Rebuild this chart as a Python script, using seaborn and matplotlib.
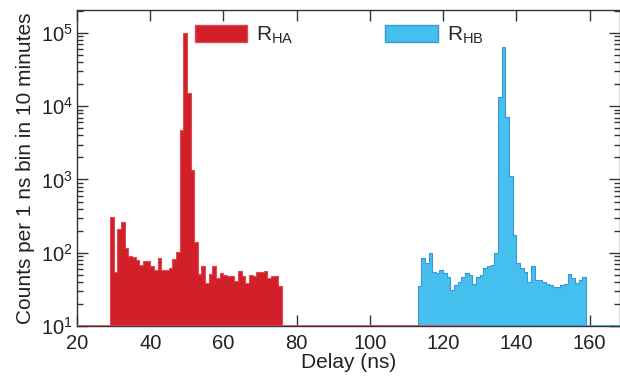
import numpy as np
import pandas as pd
import matplotlib
matplotlib.use("Agg")
import matplotlib.pyplot as plt
from matplotlib.patches import Patch
from matplotlib.ticker import NullLocator, LogLocator
import seaborn as sns

sns.set_style("ticks")
plt.rcParams["font.family"] = ["Liberation Sans", "DejaVu Sans"]
plt.rcParams["mathtext.default"] = "regular"

# ---- data (counts per 1 ns bin) ----
ha_first_bin = 29   # left edge (ns) of first R_HA bin
counts_ha = [310, 55, 210, 260, 117, 90, 88, 79, 68, 76, 76, 65, 58, 84, 58, 58,
             61, 81, 101, 4700, 100000, 15000, 1330, 141, 52, 66, 39, 52, 66, 45,
             53, 50, 48, 48, 41, 56, 48, 39, 49, 48, 55, 55, 56, 45, 48, 48, 35]
hb_first_bin = 113  # left edge (ns) of first R_HB bin
counts_hb = [35, 84, 73, 100, 55, 53, 59, 53, 47, 31, 36, 40, 47, 53, 50, 38,
             47, 50, 61, 66, 68, 100, 13500, 65000, 7100, 1100, 174, 73, 61, 55,
             40, 65, 42, 42, 40, 38, 36, 34, 34, 36, 38, 51, 45, 39, 42, 46]
labels = ["R$_{HA}$", "R$_{HB}$"]
ha_range = (20, 130)
hb_range = (100, 170)

delay_ha = np.arange(ha_first_bin, ha_first_bin + len(counts_ha)) + 0.5
delay_hb = np.arange(hb_first_bin, hb_first_bin + len(counts_hb)) + 0.5
df_ha = pd.DataFrame({"delay": delay_ha, "counts": counts_ha})
df_hb = pd.DataFrame({"delay": delay_hb, "counts": counts_hb})

red, red_edge = "#D2202A", "#DC4A52"
blue, blue_edge = "#45C0EE", "#3A98D8"

fig = plt.figure(figsize=(6.2, 3.76), dpi=100)
ax = fig.add_axes([77 / 620, 50 / 376, 543 / 620, 316 / 376])

sns.histplot(data=df_hb, x="delay", weights="counts", binwidth=1, binrange=hb_range,
             element="step", fill=True, color=blue, alpha=1, edgecolor=blue_edge,
             linewidth=0.8, ax=ax)
sns.histplot(data=df_ha, x="delay", weights="counts", binwidth=1, binrange=ha_range,
             element="step", fill=True, color=red, alpha=1, edgecolor=red_edge,
             linewidth=0.8, ax=ax)

ax.set_yscale("log")
ax.set_ylim(10, 2.06e5)
ax.set_xlim(20, 168.3)
# zero-count baseline of each histogram
ax.hlines(10, *hb_range, color=blue_edge, lw=1.2, zorder=3, clip_on=True)
ax.hlines(10, *ha_range, color=red_edge, lw=1.2, zorder=3, clip_on=True)

ax.set_xticks([20, 40, 60, 80, 100, 120, 140, 160])
ax.xaxis.set_minor_locator(NullLocator())
ax.yaxis.set_major_locator(LogLocator(base=10, numticks=10))
ax.yaxis.set_minor_locator(LogLocator(base=10, subs=np.arange(2, 10), numticks=10))

ax.tick_params(which="both", direction="in", top=True, right=True, colors="#333333",
               labelcolor="#222222", labelsize=14.5, width=1)
ax.tick_params(which="major", length=8, pad=3)
ax.tick_params(which="minor", length=4)
ax.tick_params(axis="x", which="major", pad=5.5)
for s in ax.spines.values():
    s.set_color("#333333")
    s.set_linewidth(1)

ax.set_xlabel("Delay (ns)", fontsize=15, labelpad=0, color="#222222")
ax.set_ylabel("Counts per 1 ns bin in 10 minutes", fontsize=15, labelpad=4, color="#222222")

handles = [Patch(facecolor=red, edgecolor=red_edge), Patch(facecolor=blue, edgecolor=blue_edge)]
ax.legend(handles=handles, labels=labels, ncol=2, frameon=False, loc="upper left",
          bbox_to_anchor=(0.19, 1.0), fontsize=15, handlelength=2.5, handleheight=0.9,
          columnspacing=4.4, handletextpad=0.45, borderaxespad=0.3)

fig.savefig("out.png", dpi=100)
